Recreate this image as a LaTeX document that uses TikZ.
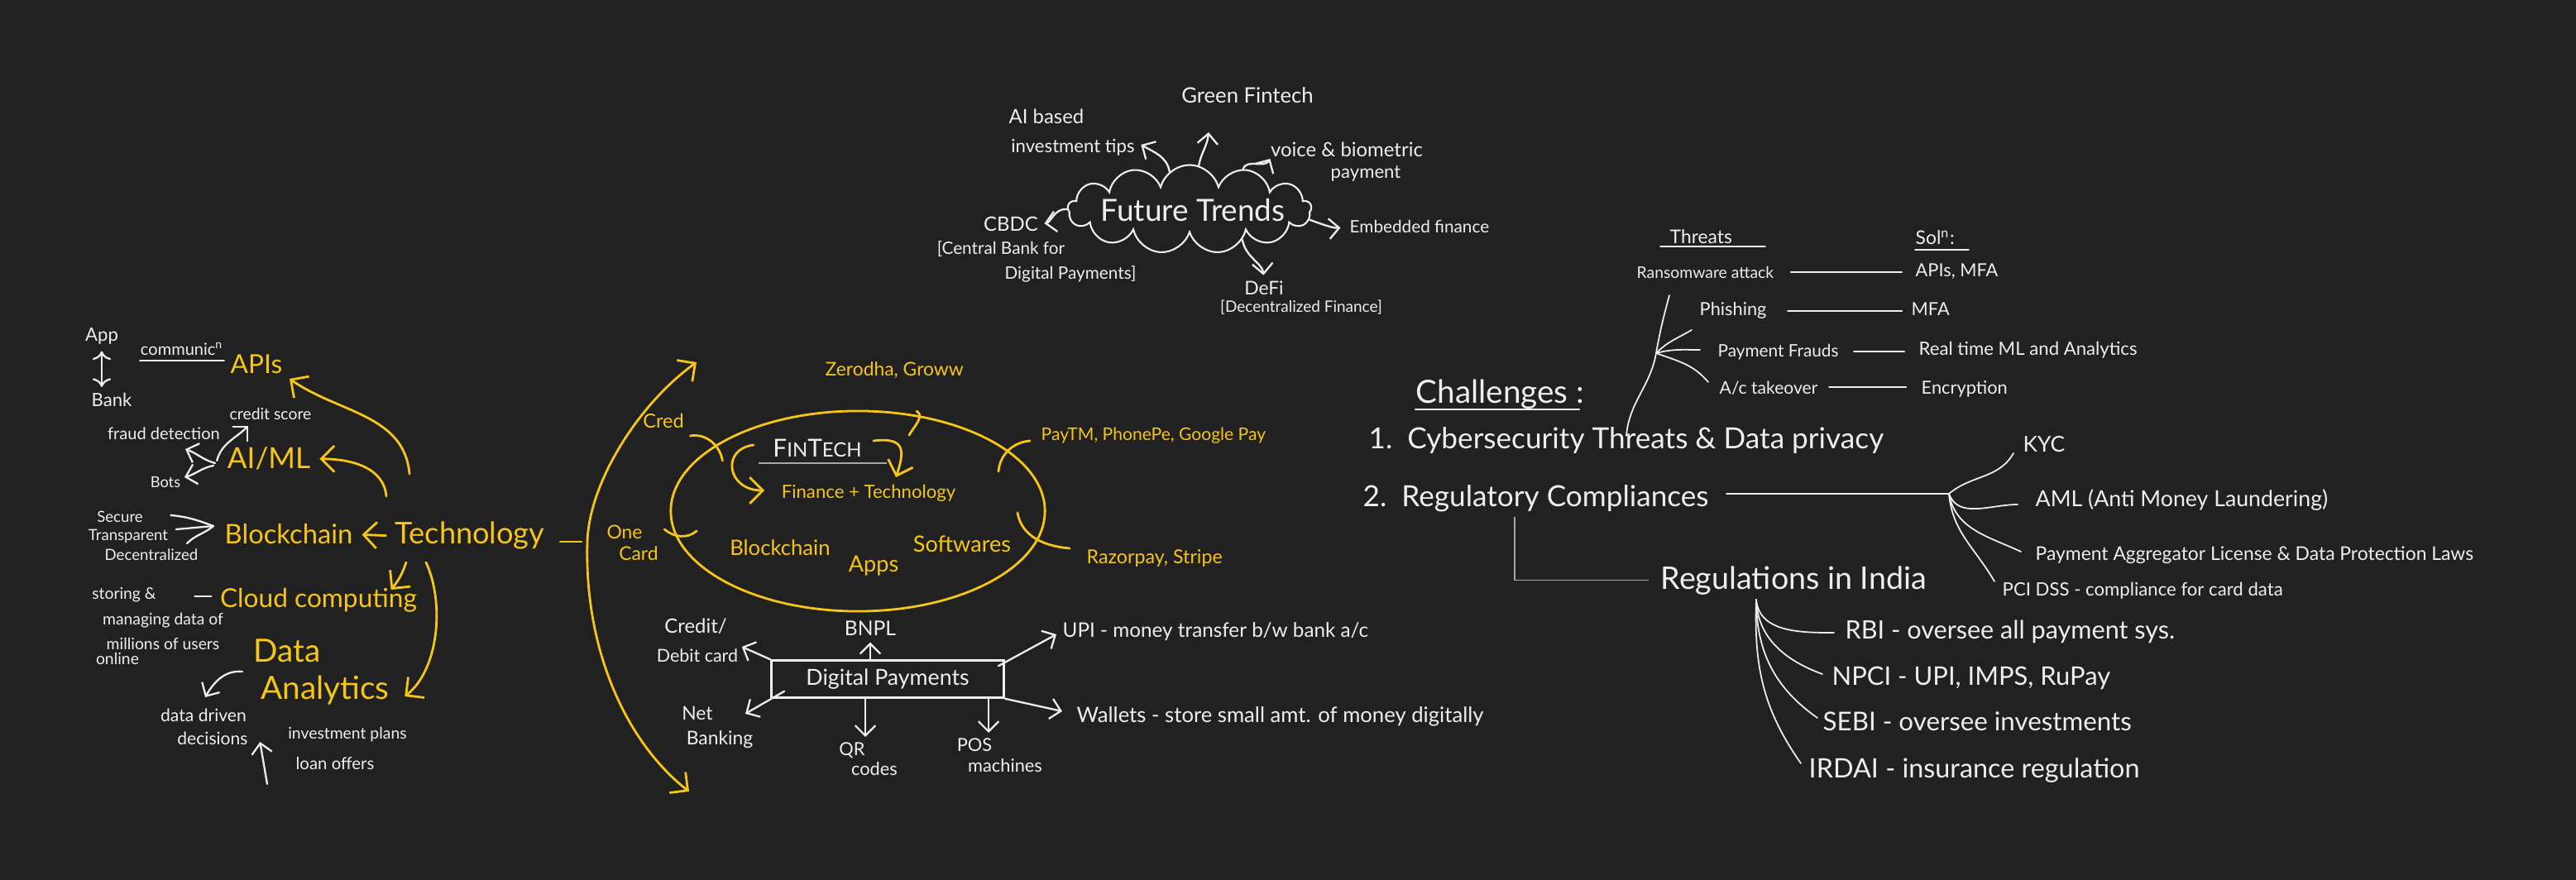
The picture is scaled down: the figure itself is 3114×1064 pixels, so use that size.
\documentclass[tikz,border=0pt]{standalone}
\usepackage{fontspec}
\setmainfont{Lato}
\usetikzlibrary{arrows.meta,shapes.geometric,shapes.symbols}
\definecolor{bgc}{HTML}{212121}
\definecolor{ylw}{HTML}{F5C518}
\definecolor{wht}{HTML}{EEEEEE}
\definecolor{gry}{HTML}{A8A8A8}
\newcommand\fsz[1]{\fontsize{#1}{#1}\selectfont}
\begin{document}
\begin{tikzpicture}[x=0.01cm,y=-0.01cm,
  wt/.style={text=wht, inner sep=0pt, anchor=base},
  yt/.style={text=ylw, inner sep=0pt, anchor=base},
  wl/.style={draw=wht, line width=0.65pt, line cap=round},
  yl/.style={draw=ylw, line width=0.8pt, line cap=round},
  gl/.style={draw=gry, line width=0.5pt},
  wa/.style={wl, -{Straight Barb[length=3.5pt,width=7pt]}},
  ya/.style={yl, -{Straight Barb[length=4.5pt,width=9pt]}},
]
\path[fill=bgc, use as bounding box] (0,0) rectangle (3114,1064);

% ---------------- left cluster ----------------
\node[wt,font=\fsz{6.3}] (app) at (123,413) {App};
\node[wt,font=\fsz{6.3}] (bank) at (135,492) {Bank};
\node[wt,font=\fsz{5.7}] (comm) at (220,430) {communic\textsuperscript{n}};
\node[yt,font=\fsz{9}] (apis) at (310,452) {APIs};
\node[wt,font=\fsz{5.5}] (credit) at (327,508) {credit score};
\node[wt,font=\fsz{5.7}] (fraud) at (198,532) {fraud detection};
\node[yt,font=\fsz{10}] (aiml) at (325,567) {AI/ML};
\node[wt,font=\fsz{5.2}] (bots) at (200,590) {Bots};
\node[wt,font=\fsz{5.3}] (secure) at (145,632) {Secure};
\node[wt,font=\fsz{5.3}] (transp) at (155,653) {Transparent};
\node[wt,font=\fsz{5.3}] (decent) at (183,678) {Decentralized};
\node[yt,font=\fsz{9.3}] (block) at (349,658) {Blockchain};
\node[yt,font=\fsz{10.3}] (tech) at (568,658) {Technology};
\node[yt,font=\fsz{9}] (cloudc) at (385,735) {Cloud computing};
\node[wt,font=\fsz{5.5}] (storing) at (150,725) {storing \&};
\node[wt,font=\fsz{5.5}] (managing) at (197,755) {managing data of};
\node[wt,font=\fsz{5.5}] (millions) at (197,785) {millions of users};
\node[wt,font=\fsz{5.5}] (online) at (142,803) {online};
\node[yt,font=\fsz{11}] (data) at (347,800) {Data};
\node[yt,font=\fsz{11}] (analytics) at (393,845) {Analytics};
\node[wt,font=\fsz{6}] (ddriven) at (246,872) {data driven};
\node[wt,font=\fsz{6}] (decisions) at (257,900) {decisions};
\node[wt,font=\fsz{5.5}] (invplans) at (420,893) {investment plans};
\node[wt,font=\fsz{5.8}] (loan) at (405,930) {loan offers};
\coordinate (dup) at (323,948);
\coordinate (conv) at (258,636);

\draw[wa,<->] ([yshift=-2pt]app.south) -- ([yshift=2pt]app.south |- bank.north);
\draw[wl] ([yshift=-1.7pt]comm.base west) -- ([yshift=-1.7pt]comm.base east);
\draw[ya] ([shift={(-73,-85)}]tech.base) to[out=95,in=-35] ([shift={(8,5)}]apis.south east);
\draw[ya] ([shift={(-101,-58)}]tech.base) to[out=95,in=0] ([xshift=3pt]aiml.east);
\draw[ya,shorten <=3pt,shorten >=3pt] (tech.west) -- (block.east);
\draw[ya] ([shift={(-77,22)}]tech.base) to[bend left=10] ([shift={(-32,2)}]cloudc.north east);
\draw[ya] ([shift={(-53,22)}]tech.base) .. controls (538,730) and (530,810) .. ([shift={(18,-3)}]analytics.base east);
\draw[wa] ([shift={(-54,12)}]data.base) to[out=175,in=60] ([shift={(2,-29)}]ddriven.base);
\draw[wa] (dup) -- ([shift={(14,-3)}]decisions.base east);
\draw[wa] ([shift={(-12,-10)}]aiml.base west) to[out=75,in=-135] ([shift={(23,7)}]credit.base west);
\draw[wa] ([shift={(-14,-7)}]aiml.base west) to[out=165,in=-20] ([shift={(26,11)}]fraud.base);
\draw[wa] ([shift={(-16,-4)}]aiml.base west) to[out=190,in=15] ([shift={(4,-13)}]bots.base east);
\draw[wl] ([shift={(33,-9)}]secure.base east) to[out=-5,in=160] (conv);
\draw[wl] ([shift={(9,-13)}]transp.base east) -- (conv);
\draw[wl] ([shift={(-14,-21)}]decent.base east) to[out=45,in=-140] (conv);
\draw[wl] ([shift={(-30,-14)}]cloudc.base west) -- ([shift={(-10,-14)}]cloudc.base west);

% ---------------- FinTech ----------------
\node[yt,font=\fsz{6.7}] (cred) at (802,518) {Cred};
\node[yt,font=\fsz{6.5}] (one) at (755,652) {One};
\node[yt,font=\fsz{6.5}] (card) at (772,678) {Card};
\node[yt,font=\fsz{6.5},anchor=base west] (zerodha) at (997,455) {Zerodha, Groww};
\node[ellipse, draw=ylw, line width=0.8pt, minimum width=4.52cm, minimum height=2.42cm] (fin) at (1037,618) {};
\node[wt,font=\fsz{8.5}] (fintech) at (988,553) {F{\fsz{6.8}IN}T{\fsz{6.8}ECH}};
\draw[gl,line width=0.7pt] ([shift={(-71,7)}]fintech.base) -- ([shift={(84,7)}]fintech.base);
\node[yt,font=\fsz{6.3}] (fpt) at (1050,603) {Finance + Technology};
\node[yt,font=\fsz{7.3}] (blockin) at (943,672) {Blockchain};
\node[yt,font=\fsz{7.7}] (apps) at (1056,692) {Apps};
\node[yt,font=\fsz{7.7}] (softw) at (1163,667) {Softwares};
\node[yt,font=\fsz{6.0},anchor=base west] (paytm) at (1258,533) {PayTM, PhonePe, Google Pay};
\node[yt,font=\fsz{6.6},anchor=base west] (razor) at (1313,682) {Razorpay, Stripe};

\draw[yl] ([shift={(7,9)}]cred.base east) to[out=10,in=100] ([shift={(46,39)}]cred.base east);
\draw[yl] ([shift={(26,-12)}]one.base east) to[out=-40,in=-140] ([shift={(65,-10)}]one.base east);
\draw[yl] ([shift={(111,42)}]zerodha.base west) to[out=-30,in=60] ([shift={(102,71)}]zerodha.base west);
\draw[yl] ([shift={(-13,0)}]paytm.base west) to[out=185,in=85] ([shift={(-51,37)}]paytm.base west);
\draw[yl] ([shift={(-83,-62)}]razor.base west) to[out=-80,in=175] ([shift={(-20,-19)}]razor.base west);
\draw[ya] ([shift={(-77,-15)}]fintech.base) .. controls +(-40,5) and +(-45,0) .. ([shift={(-126,-10)}]fpt.base);
\draw[ya] ([shift={(68,-20)}]fintech.base) .. controls +(40,-5) and +(10,-30) .. ([shift={(33,-26)}]fpt.base);

\coordinate (arcM) at (710,655);
\coordinate (arcT) at (842,438);
\coordinate (arcB) at (833,957);
\draw[yl] ([shift={(18,-3)}]tech.base east) -- ([xshift=-2pt]arcM);
\draw[ya] (arcM) .. controls (712,585) and (770,490) .. (arcT);
\draw[ya] (arcM) .. controls (706,790) and (760,900) .. (arcB);

% ---------------- Digital payments ----------------
\node[draw=wht, line width=0.7pt, minimum width=2.81cm, minimum height=0.45cm, inner sep=0pt, text=wht, font=\fsz{7.6}] (dp) at (1073,821) {Digital Payments};
\node[wt,font=\fsz{6.8}] (creditc) at (841,765) {Credit/};
\node[wt,font=\fsz{6.1}] (debit) at (843,800) {Debit card};
\node[wt,font=\fsz{7}] (bnpl) at (1052,768) {BNPL};
\node[wt,font=\fsz{6.9},anchor=base west] (upi) at (1284,770) {UPI - money transfer b/w bank a/c};
\node[wt,font=\fsz{6.5}] (net) at (843,870) {Net};
\node[wt,font=\fsz{6.5}] (banking) at (870,900) {Banking};
\node[wt,font=\fsz{6.2}] (qr) at (1030,913) {QR};
\node[wt,font=\fsz{6.2}] (codes) at (1057,937) {codes};
\node[wt,font=\fsz{6.2}] (pos) at (1178,908) {POS};
\node[wt,font=\fsz{6.2}] (machines) at (1215,933) {machines};
\node[wt,font=\fsz{7.3},anchor=base west] (wallets) at (1301,873) {Wallets - store small amt. of money digitally};

\draw[wa] (dp.north west) -- ([shift={(4,-18)}]debit.base east);
\draw[wa] (dp.north -| bnpl.south) -- ([shift={(0,8)}]bnpl.south);
\draw[wa] ([shift={(-8,8)}]dp.north east) -- ([shift={(-7,-3)}]upi.base west);
\draw[wa] ([shift={(17,-9)}]dp.south west) -- ([shift={(31,-37)}]banking.base);
\draw[wa] ([shift={(-27,0)}]dp.south) -- ([shift={(16,-22)}]qr.base);
\draw[wa] ([shift={(122,0)}]dp.south) -- ([shift={(17,-22)}]pos.base);
\draw[wa] (dp.south east) -- ([shift={(-17,-13)}]wallets.base west);

% ---------------- Future trends ----------------
\node[cloud, draw=wht, line width=0.6pt, cloud puffs=13, cloud ignores aspect, minimum width=2.94cm, minimum height=1.07cm, inner sep=0pt] (ftc) at (1438,253) {};
\node[wt,font=\fsz{10.5}] (ft) at (1442,268) {Future Trends};
\node[wt,font=\fsz{7.3}] (green) at (1508,125) {Green Fintech};
\node[wt,font=\fsz{6.8}] (aib) at (1265,150) {AI based};
\node[wt,font=\fsz{6.3}] (invtips) at (1297,185) {investment tips};
\node[wt,font=\fsz{6.8}] (voice) at (1628,190) {voice \& biometric};
\node[wt,font=\fsz{6.3}] (paym) at (1651,216) {payment};
\node[wt,font=\fsz{6.8}] (cbdc) at (1222,280) {CBDC};
\node[wt,font=\fsz{5.9}] (cbank) at (1210,308) {[Central Bank for};
\node[wt,font=\fsz{5.9}] (dpay) at (1294,338) {Digital Payments]};
\node[wt,font=\fsz{5.9},anchor=base west] (emb) at (1631,282) {Embedded finance};
\node[wt,font=\fsz{6.5}] (defi) at (1528,357) {DeFi};
\node[wt,font=\fsz{5.4}] (decfin) at (1573,378) {[Decentralized Finance]};

\draw[wa] (ftc.118) to[out=100,in=-30] ([shift={(7,-10)}]invtips.base east);
\draw[wa] (ftc.78) to[out=80,in=-95] ([shift={(-47,35)}]green.base);
\draw[wa] (ftc.37) to[out=70,in=-120] ([shift={(0,2)}]voice.base west);
\draw[wa,shorten >=2pt] (ftc.west) to[out=175,in=10] (cbdc.east);
\draw[wa,shorten >=3pt] (ftc.-5) to[out=-20,in=185] (emb.west);
\draw[wa,shorten >=2pt] (ftc.-30) to[out=-80,in=95] (defi.north);

% ---------------- Challenges ----------------
\node[wt,font=\fsz{6.5},anchor=base west] (threats) at (2018,295) {Threats};
\draw[wl,line width=0.5pt] ([shift={(-11,3)}]threats.base west) -- ([shift={(116,3)}]threats.base west);
\node[wt,font=\fsz{6.5},anchor=base west] (soln) at (2315,296) {Sol\textsuperscript{n}:};
\draw[wl,line width=0.5pt] ([shift={(0,6)}]soln.base west) -- ([shift={(65,6)}]soln.base west);
\node[wt,font=\fsz{5.5},anchor=base west] (ransom) at (1978,337) {Ransomware attack};
\node[wt,font=\fsz{6.2},anchor=base west] (apismfa) at (2315,335) {APIs, MFA};
\node[wt,font=\fsz{6.2},anchor=base west] (phish) at (2054,382) {Phishing};
\node[wt,font=\fsz{6.2},anchor=base west] (mfa) at (2310,382) {MFA};
\node[wt,font=\fsz{5.9},anchor=base west] (payfr) at (2076,432) {Payment Frauds};
\node[wt,font=\fsz{6.3},anchor=base west] (realtime) at (2319,430) {Real time ML and Analytics};
\node[wt,font=\fsz{6},anchor=base west] (aco) at (2078,477) {A/c takeover};
\node[wt,font=\fsz{6.2},anchor=base west] (encr) at (2322,477) {Encryption};

\draw[wl] ([shift={(20,-8)}]ransom.base east) -- ([shift={(-16,-6)}]apismfa.base west);
\draw[wl] ([shift={(25,-6)}]phish.base east) -- ([shift={(-11,-6)}]mfa.base west);
\draw[wl] ([shift={(18,-7)}]payfr.base east) -- ([shift={(-17,-5)}]realtime.base west);
\draw[wl] ([shift={(13,-9)}]aco.base east) -- ([shift={(-18,-9)}]encr.base west);

\node[wt,font=\fsz{11},anchor=base west] (chall) at (1711,488) {Challenges :};
\draw[wl] ([shift={(0,7)}]chall.base west) -- ([shift={(198,7)}]chall.base west);
\node[wt,font=\fsz{10},anchor=base west] (cyber) at (1654,543) {1.\ \ Cybersecurity Threats \& Data privacy};
\node[wt,font=\fsz{10},anchor=base west] (regc) at (1647,613) {2.\ \ Regulatory Compliances};
\node[wt,font=\fsz{10.7},anchor=base west] (regi) at (2007,712) {Regulations in India};
\node[wt,font=\fsz{7.5},anchor=base west] (kyc) at (2445,547) {KYC};
\node[wt,font=\fsz{7.6},anchor=base west] (aml) at (2460,613) {AML (Anti Money Laundering)};
\node[wt,font=\fsz{6.5},anchor=base west] (pal) at (2460,677) {Payment Aggregator License \& Data Protection Laws};
\node[wt,font=\fsz{6.3},anchor=base west] (pci) at (2420,720) {PCI DSS - compliance for card data};
\node[wt,font=\fsz{8.7},anchor=base west] (rbi) at (2230,772) {RBI - oversee all payment sys.};
\node[wt,font=\fsz{8.8},anchor=base west] (npci) at (2214,828) {NPCI - UPI, IMPS, RuPay};
\node[wt,font=\fsz{8.9},anchor=base west] (sebi) at (2203,883) {SEBI - oversee investments};
\node[wt,font=\fsz{9.2},anchor=base west] (irdai) at (2186,940) {IRDAI - insurance regulation};

\coordinate (tj) at (2002,427);
\coordinate (ttop) at (2018,357);
\draw[wl,line width=0.5pt] ([yshift=-3pt]cyber.north) to[out=85,in=-100] (tj) to[out=80,in=-105] (ttop);
\draw[wl,line width=0.5pt] (tj) to[out=45,in=-150] ([shift={(-9,17)}]phish.base west);
\draw[wl,line width=0.5pt] (tj) to[out=15,in=180] ([shift={(-21,-9)}]payfr.base west);
\draw[wl,line width=0.5pt] (tj) to[out=-20,in=130] ([shift={(-13,-15)}]aco.base west);

\coordinate (rj) at (2356,597);
\draw[wl] ([shift={(21,-16)}]regc.base east) -- (rj);
\draw[wl,line width=0.5pt] (rj) to[out=40,in=-120] ([shift={(-11,1)}]kyc.base west);
\draw[wl,line width=0.5pt] (rj) to[out=-70,in=180] ([shift={(-21,-3)}]aml.base west);
\draw[wl,line width=0.5pt] (rj) to[out=-80,in=155] ([shift={(-17,-10)}]pal.base west);
\draw[wl,line width=0.5pt] (rj) to[out=-85,in=120] ([shift={(-9,0)}]pci.north west);

\draw[gl] ([shift={(184,12)}]regc.base west) |- ([xshift=-4pt]regi.west);

\coordinate (ij) at (2123,725);
\draw[wl,line width=0.5pt] (ij) to[out=-85,in=180] ([shift={(-13,-7)}]rbi.base west);
\draw[wl,line width=0.5pt] (ij) to[out=-88,in=160] ([shift={(-11,-13)}]npci.base west);
\draw[wl,line width=0.5pt] (ij) to[out=-90,in=145] ([shift={(-6,-15)}]sebi.base west);
\draw[wl,line width=0.5pt] (ij) to[out=-92,in=125] ([shift={(-9,-17)}]irdai.base west);
\end{tikzpicture}
\end{document}
